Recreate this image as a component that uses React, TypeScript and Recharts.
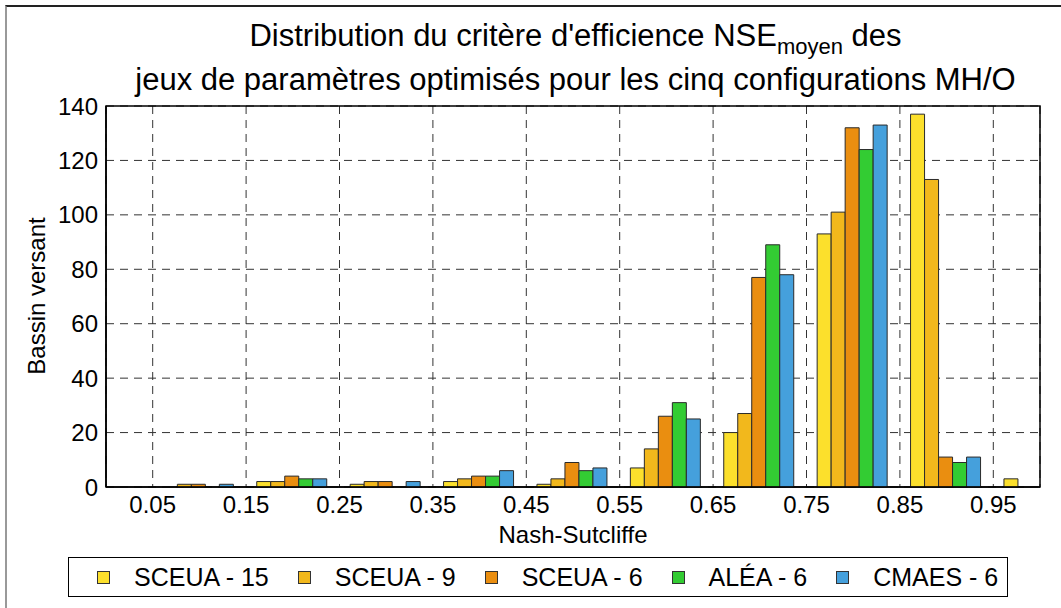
import {
  BarChart,
  Bar,
  XAxis,
  YAxis,
  CartesianGrid,
  Legend,
  ReferenceArea,
} from "recharts";

// centres des classes de NSE (largeur 0.1)
const bins = [0.1, 0.2, 0.3, 0.4, 0.5, 0.6, 0.7, 0.8, 0.9, 1.0];
const xTicks = [0.05, 0.15, 0.25, 0.35, 0.45, 0.55, 0.65, 0.75, 0.85, 0.95];
const yTicks = [0, 20, 40, 60, 80, 100, 120, 140];

const sceua15 = [0, 2, 1, 2, 1, 7, 20, 93, 137, 3];
const sceua9 = [1, 2, 2, 3, 3, 14, 27, 101, 113, 0];
const sceua6 = [1, 4, 2, 4, 9, 26, 77, 132, 11, 0];
const alea6 = [0, 3, 0, 4, 6, 31, 89, 124, 9, 0];
const cmaes6 = [1, 3, 2, 6, 7, 25, 78, 133, 11, 0];

const seriesKeys = ["sceua15", "sceua9", "sceua6", "alea6", "cmaes6"];
const seriesNames = ["SCEUA - 15", "SCEUA - 9", "SCEUA - 6", "ALÉA - 6", "CMAES - 6"];
const seriesColors = ["#FCE02C", "#F2B81C", "#EA8E10", "#33CC33", "#45A0DC"];

const chartData = bins.map((bin, i) => ({
  bin,
  sceua15: sceua15[i],
  sceua9: sceua9[i],
  sceua6: sceua6[i],
  alea6: alea6[i],
  cmaes6: cmaes6[i],
}));

const FONT = "'Liberation Sans', Arial, Helvetica, sans-serif";

function LegendBox() {
  return (
    <div
      style={{
        boxSizing: "border-box",
        width: 940,
        height: 40,
        border: "1.5px solid #000",
        display: "flex",
        alignItems: "center",
        paddingLeft: 28,
        fontSize: 25,
        color: "#000",
        background: "#fff",
        whiteSpace: "nowrap",
      }}
    >
      {seriesNames.map((name, i) => (
        <div
          key={name}
          style={{ display: "flex", alignItems: "center", marginRight: 29, flexShrink: 0 }}
        >
          <span
            style={{
              display: "inline-block",
              boxSizing: "border-box",
              width: 13,
              height: 13,
              background: seriesColors[i],
              border: "1px solid #333",
              marginRight: 24,
              flexShrink: 0,
            }}
          />
          <span style={{ lineHeight: "28px", whiteSpace: "nowrap" }}>{name}</span>
        </div>
      ))}
    </div>
  );
}

export default function App() {
  return (
    <div
      style={{
        position: "absolute",
        left: 0,
        top: 0,
        width: 1061,
        height: 608,
        background: "#fff",
        fontFamily: FONT,
        overflow: "hidden",
      }}
    >
      <div
        style={{
          position: "absolute",
          left: 5,
          top: 5,
          right: -10,
          bottom: -10,
          borderLeft: "2px solid #999",
          borderTop: "2px solid #222",
        }}
      />
      <div
        style={{
          position: "absolute",
          left: 0,
          top: 15,
          width: 1151,
          textAlign: "center",
          fontSize: 31,
          lineHeight: "41px",
          color: "#000",
          zIndex: 2,
        }}
      >
        <div>
          Distribution du critère d'efficience NSE
          <span style={{ fontSize: 22, position: "relative", top: 8 }}>moyen</span> des
        </div>
        <div>jeux de paramètres optimisés pour les cinq configurations MH/O</div>
      </div>

      <BarChart
        width={1061}
        height={608}
        data={chartData}
        margin={{ top: 106, right: 21, left: 46, bottom: 61 }}
        barGap={0}
        barCategoryGap="11.4%"
      >
        <CartesianGrid stroke="#333" strokeDasharray="8 6" strokeWidth={1} />
        <XAxis
          dataKey="bin"
          type="number"
          domain={[0, 1]}
          allowDataOverflow
          ticks={xTicks}
          tickFormatter={(v: number) => v.toFixed(2)}
          height={60}
          tickLine={false}
          tickMargin={3}
          axisLine={{ stroke: "#000", strokeWidth: 1.5 }}
          tick={{ fill: "#000", fontSize: 24 }}
        />
        <YAxis
          type="number"
          domain={[0, 140]}
          ticks={yTicks}
          width={60}
          tickLine={false}
          axisLine={{ stroke: "#000", strokeWidth: 1.5 }}
          tick={{ fill: "#000", fontSize: 24 }}
        />
        {seriesKeys.map((key, i) => (
          <Bar
            key={key}
            dataKey={key}
            name={seriesNames[i]}
            fill={seriesColors[i]}
            stroke="#2a2a2a"
            strokeWidth={1}
            isAnimationActive={false}
          />
        ))}
        <ReferenceArea
          x1={0}
          x2={1}
          y1={0}
          y2={140}
          fill="none"
          fillOpacity={0}
          stroke="#000"
          strokeWidth={1.5}
        />
        <Legend
          layout="horizontal"
          verticalAlign="middle"
          align="center"
          content={() => <LegendBox />}
          wrapperStyle={{ left: 68, top: 557, width: 940, height: 40 }}
        />
      </BarChart>

      <div
        style={{
          position: "absolute",
          left: 373,
          width: 400,
          top: 521,
          textAlign: "center",
          fontSize: 24,
          lineHeight: "28px",
          color: "#000",
        }}
      >
        Nash-Sutcliffe
      </div>
      <div
        style={{
          position: "absolute",
          left: 37,
          top: 296,
          transform: "translate(-50%, -50%) rotate(-90deg)",
          whiteSpace: "nowrap",
          fontSize: 24,
          lineHeight: "28px",
          color: "#000",
        }}
      >
        Bassin versant
      </div>
    </div>
  );
}
